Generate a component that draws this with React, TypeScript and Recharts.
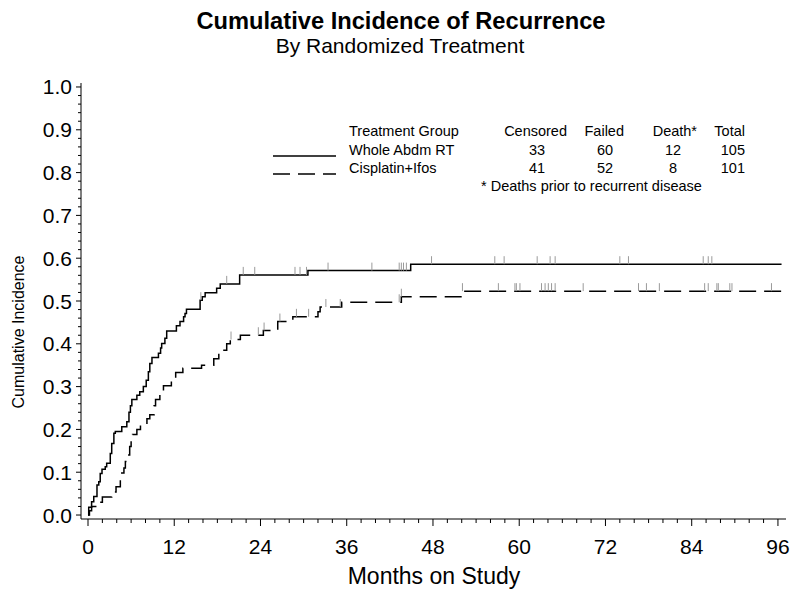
import { ComposedChart, Line, Scatter, XAxis, YAxis } from "recharts";

// step times (months) and cumulative incidence after each step
const wholeTimes = [
  0, 0.1, 0.5, 0.8, 1.25, 1.5, 1.7, 1.95, 2.4, 2.6, 3.1, 3.3, 3.6, 3.8, 4.7, 5.4,
  5.7, 5.9, 6.1, 6.8, 7.2, 7.7, 8.1, 8.4, 8.6, 8.9, 9.8, 10.1, 10.25, 10.7, 10.95,
  12.3, 12.8, 13.3, 13.5, 13.7, 15.6, 15.9, 16.3, 17.9, 18.4, 21.1, 30.6, 44.9, 96.5,
];
const wholeCif = [
  0, 0.018, 0.031, 0.043, 0.07, 0.078, 0.097, 0.107, 0.113, 0.121, 0.144, 0.167,
  0.191, 0.195, 0.206, 0.218, 0.24, 0.255, 0.27, 0.28, 0.288, 0.3, 0.315, 0.335,
  0.354, 0.368, 0.378, 0.39, 0.401, 0.413, 0.43, 0.442, 0.452, 0.463, 0.471, 0.481,
  0.502, 0.51, 0.519, 0.53, 0.54, 0.561, 0.571, 0.586, 0.586,
];

const cispTimes = [
  0, 0.2, 0.5, 1.8, 2.0, 3.3, 3.9, 4.5, 4.7, 5.0, 5.2, 5.4, 5.8, 6.0, 6.2, 6.8,
  7.3, 8.2, 8.6, 9.2, 9.4, 10.0, 10.5, 11.6, 12.2, 13.2, 15.8, 17.5, 18.2, 19.3,
  19.8, 21.2, 24.4, 26.4, 28.5, 32.0, 32.3, 35.3, 43.6, 52.1, 96.5,
];
const cispCif = [
  0, 0.01, 0.02, 0.03, 0.042, 0.054, 0.066, 0.086, 0.098, 0.11, 0.125, 0.14, 0.16,
  0.175, 0.188, 0.2, 0.21, 0.225, 0.234, 0.255, 0.27, 0.29, 0.302, 0.32, 0.333,
  0.343, 0.35, 0.365, 0.385, 0.4, 0.41, 0.42, 0.431, 0.452, 0.463, 0.475, 0.486,
  0.497, 0.51, 0.523, 0.523,
];

// censoring times (months)
const wholeCensored = [
  15.7, 19.3, 21.6, 23.2, 28.8, 29.5, 30.4, 33.4, 39.5, 43.3, 43.6, 43.9, 44.3,
  47.8, 56.6, 57.9, 62.5, 64.3, 65.0, 74.0, 75.2, 85.6, 86.3, 86.8,
];
const cispCensored = [
  19.9, 23.7, 24.5, 26.7, 29.0, 30.7, 33.1, 35.1, 43.3, 43.6, 52.1, 57.1, 59.4,
  59.6, 60.1, 63.1, 63.6, 64.05, 64.5, 65.0, 68.9, 76.6, 77.7, 79.5, 85.8, 86.3,
  87.5, 87.7, 89.3, 89.6, 95.1,
];

const xMajorTicks = [0, 12, 24, 36, 48, 60, 72, 84, 96];
const yMajorTicks = [0, 0.1, 0.2, 0.3, 0.4, 0.5, 0.6, 0.7, 0.8, 0.9, 1.0];
const yTickLabels = ["0.0", "0.1", "0.2", "0.3", "0.4", "0.5", "0.6", "0.7", "0.8", "0.9", "1.0"];

const legendHeaders = ["Censored", "Failed", "Death*", "Total"];
const wholeCounts = ["33", "60", "12", "105"];
const cispCounts = ["41", "52", "8", "101"];

const xMinorTicks = Array.from({ length: 49 }, (_, i) => i * 2);
const yMinorTicks = Array.from({ length: 51 }, (_, i) => Math.round(i * 2) / 100);

const FONT = "'Liberation Sans', Arial, Helvetica, sans-serif";
const DASH = "17 8";

const toPoints = (times: number[], cif: number[]) =>
  times.map((m, i) => ({ m, v: cif[i] }));

const levelAt = (times: number[], cif: number[], t: number) => {
  let v = 0;
  times.forEach((m, i) => {
    if (m <= t) v = cif[i];
  });
  return v;
};

const wholeData = toPoints(wholeTimes, wholeCif);
const cispData = toPoints(cispTimes, cispCif);
const wholeCens = wholeCensored.map((m) => ({ m, v: levelAt(wholeTimes, wholeCif, m) }));
const cispCens = cispCensored.map((m) => ({ m, v: levelAt(cispTimes, cispCif, m) }));

function XTick(props: any) {
  const { x, y, payload } = props;
  const major = xMajorTicks.includes(payload.value);
  return (
    <g>
      <line x1={x} x2={x} y1={y} y2={y + (major ? 7 : 4)} stroke="#000" />
      {major && (
        <text x={x} y={y + 35} textAnchor="middle" fontSize={21} fontFamily={FONT} fill="#000">
          {payload.value}
        </text>
      )}
    </g>
  );
}

function YTick(props: any) {
  const { x, y, payload } = props;
  const idx = yMajorTicks.findIndex((t) => Math.abs(t - payload.value) < 1e-6);
  const major = idx >= 0;
  return (
    <g>
      <line x1={x} x2={x - (major ? 5 : 3)} y1={y} y2={y} stroke="#000" />
      {major && (
        <text x={x - 9} y={y + 7.5} textAnchor="end" fontSize={21} fontFamily={FONT} fill="#000">
          {yTickLabels[idx]}
        </text>
      )}
    </g>
  );
}

const censorMark = (props: any) => (
  <line x1={props.cx} x2={props.cx} y1={props.cy} y2={props.cy - 8} stroke="#9a9a9a" strokeWidth={1} />
);

export default function App() {
  return (
    <div style={{ position: "absolute", left: 0, top: 0, width: 800, height: 594, background: "#fff" }}>
      <ComposedChart width={800} height={594} margin={{ top: 83, right: 14, bottom: 35, left: 21 }}>
        <XAxis
          type="number"
          dataKey="m"
          domain={[-0.974, 97.12]}
          ticks={xMinorTicks}
          interval={0}
          height={40}
          tickSize={0}
          tickMargin={0}
          tickLine={false}
          tick={XTick}
          axisLine={{ stroke: "#000" }}
          allowDataOverflow
        />
        <YAxis
          type="number"
          dataKey="v"
          domain={[-0.0093, 1.0093]}
          ticks={yMinorTicks}
          interval={0}
          width={60}
          tickSize={0}
          tickMargin={0}
          tickLine={false}
          tick={YTick}
          axisLine={{ stroke: "#000" }}
          allowDataOverflow
        />
        <Line
          data={wholeData}
          dataKey="v"
          type="stepAfter"
          stroke="#000"
          strokeWidth={1.5}
          dot={false}
          activeDot={false}
          isAnimationActive={false}
        />
        <Line
          data={cispData}
          dataKey="v"
          type="stepAfter"
          stroke="#000"
          strokeWidth={1.5}
          strokeDasharray={DASH}
          dot={false}
          activeDot={false}
          isAnimationActive={false}
        />
        <Scatter data={wholeCens} dataKey="v" shape={censorMark} isAnimationActive={false} />
        <Scatter data={cispCens} dataKey="v" shape={censorMark} isAnimationActive={false} />
      </ComposedChart>

      <svg
        width={800}
        height={594}
        style={{ position: "absolute", left: 0, top: 0, pointerEvents: "none" }}
        fontFamily={FONT}
      >
        <text x={401} y={29} textAnchor="middle" fontSize={24} fontWeight="bold" textLength={409} lengthAdjust="spacingAndGlyphs">
          Cumulative Incidence of Recurrence
        </text>
        <text x={400} y={53} textAnchor="middle" fontSize={21}>
          By Randomized Treatment
        </text>
        <text x={0} y={0} transform="translate(24 332) rotate(-90)" textAnchor="middle" fontSize={16}>
          Cumulative Incidence
        </text>
        <text x={434} y={584} textAnchor="middle" fontSize={23}>
          Months on Study
        </text>

        <g fontSize={14.5} fill="#000">
          <text x={349} y={136}>Treatment Group</text>
          {legendHeaders.map((h, i) => (
            <text key={h} x={[567, 624, 697, 745][i]} y={136} textAnchor="end">
              {h}
            </text>
          ))}
          <line x1={273} x2={336} y1={156} y2={156} stroke="#000" strokeWidth={1.5} />
          <text x={349} y={154.5}>Whole Abdm RT</text>
          {wholeCounts.map((c, i) => (
            <text key={i} x={[537, 605, 673, 745][i]} y={154.5} textAnchor={i === 3 ? "end" : "middle"}>
              {c}
            </text>
          ))}
          <line x1={273} x2={336} y1={174} y2={174} stroke="#000" strokeWidth={1.5} strokeDasharray={DASH} />
          <text x={349} y={173}>Cisplatin+Ifos</text>
          {cispCounts.map((c, i) => (
            <text key={i} x={[537, 605, 673, 745][i]} y={173} textAnchor={i === 3 ? "end" : "middle"}>
              {c}
            </text>
          ))}
          <text x={481} y={191}>* Deaths prior to recurrent disease</text>
        </g>
      </svg>
    </div>
  );
}
